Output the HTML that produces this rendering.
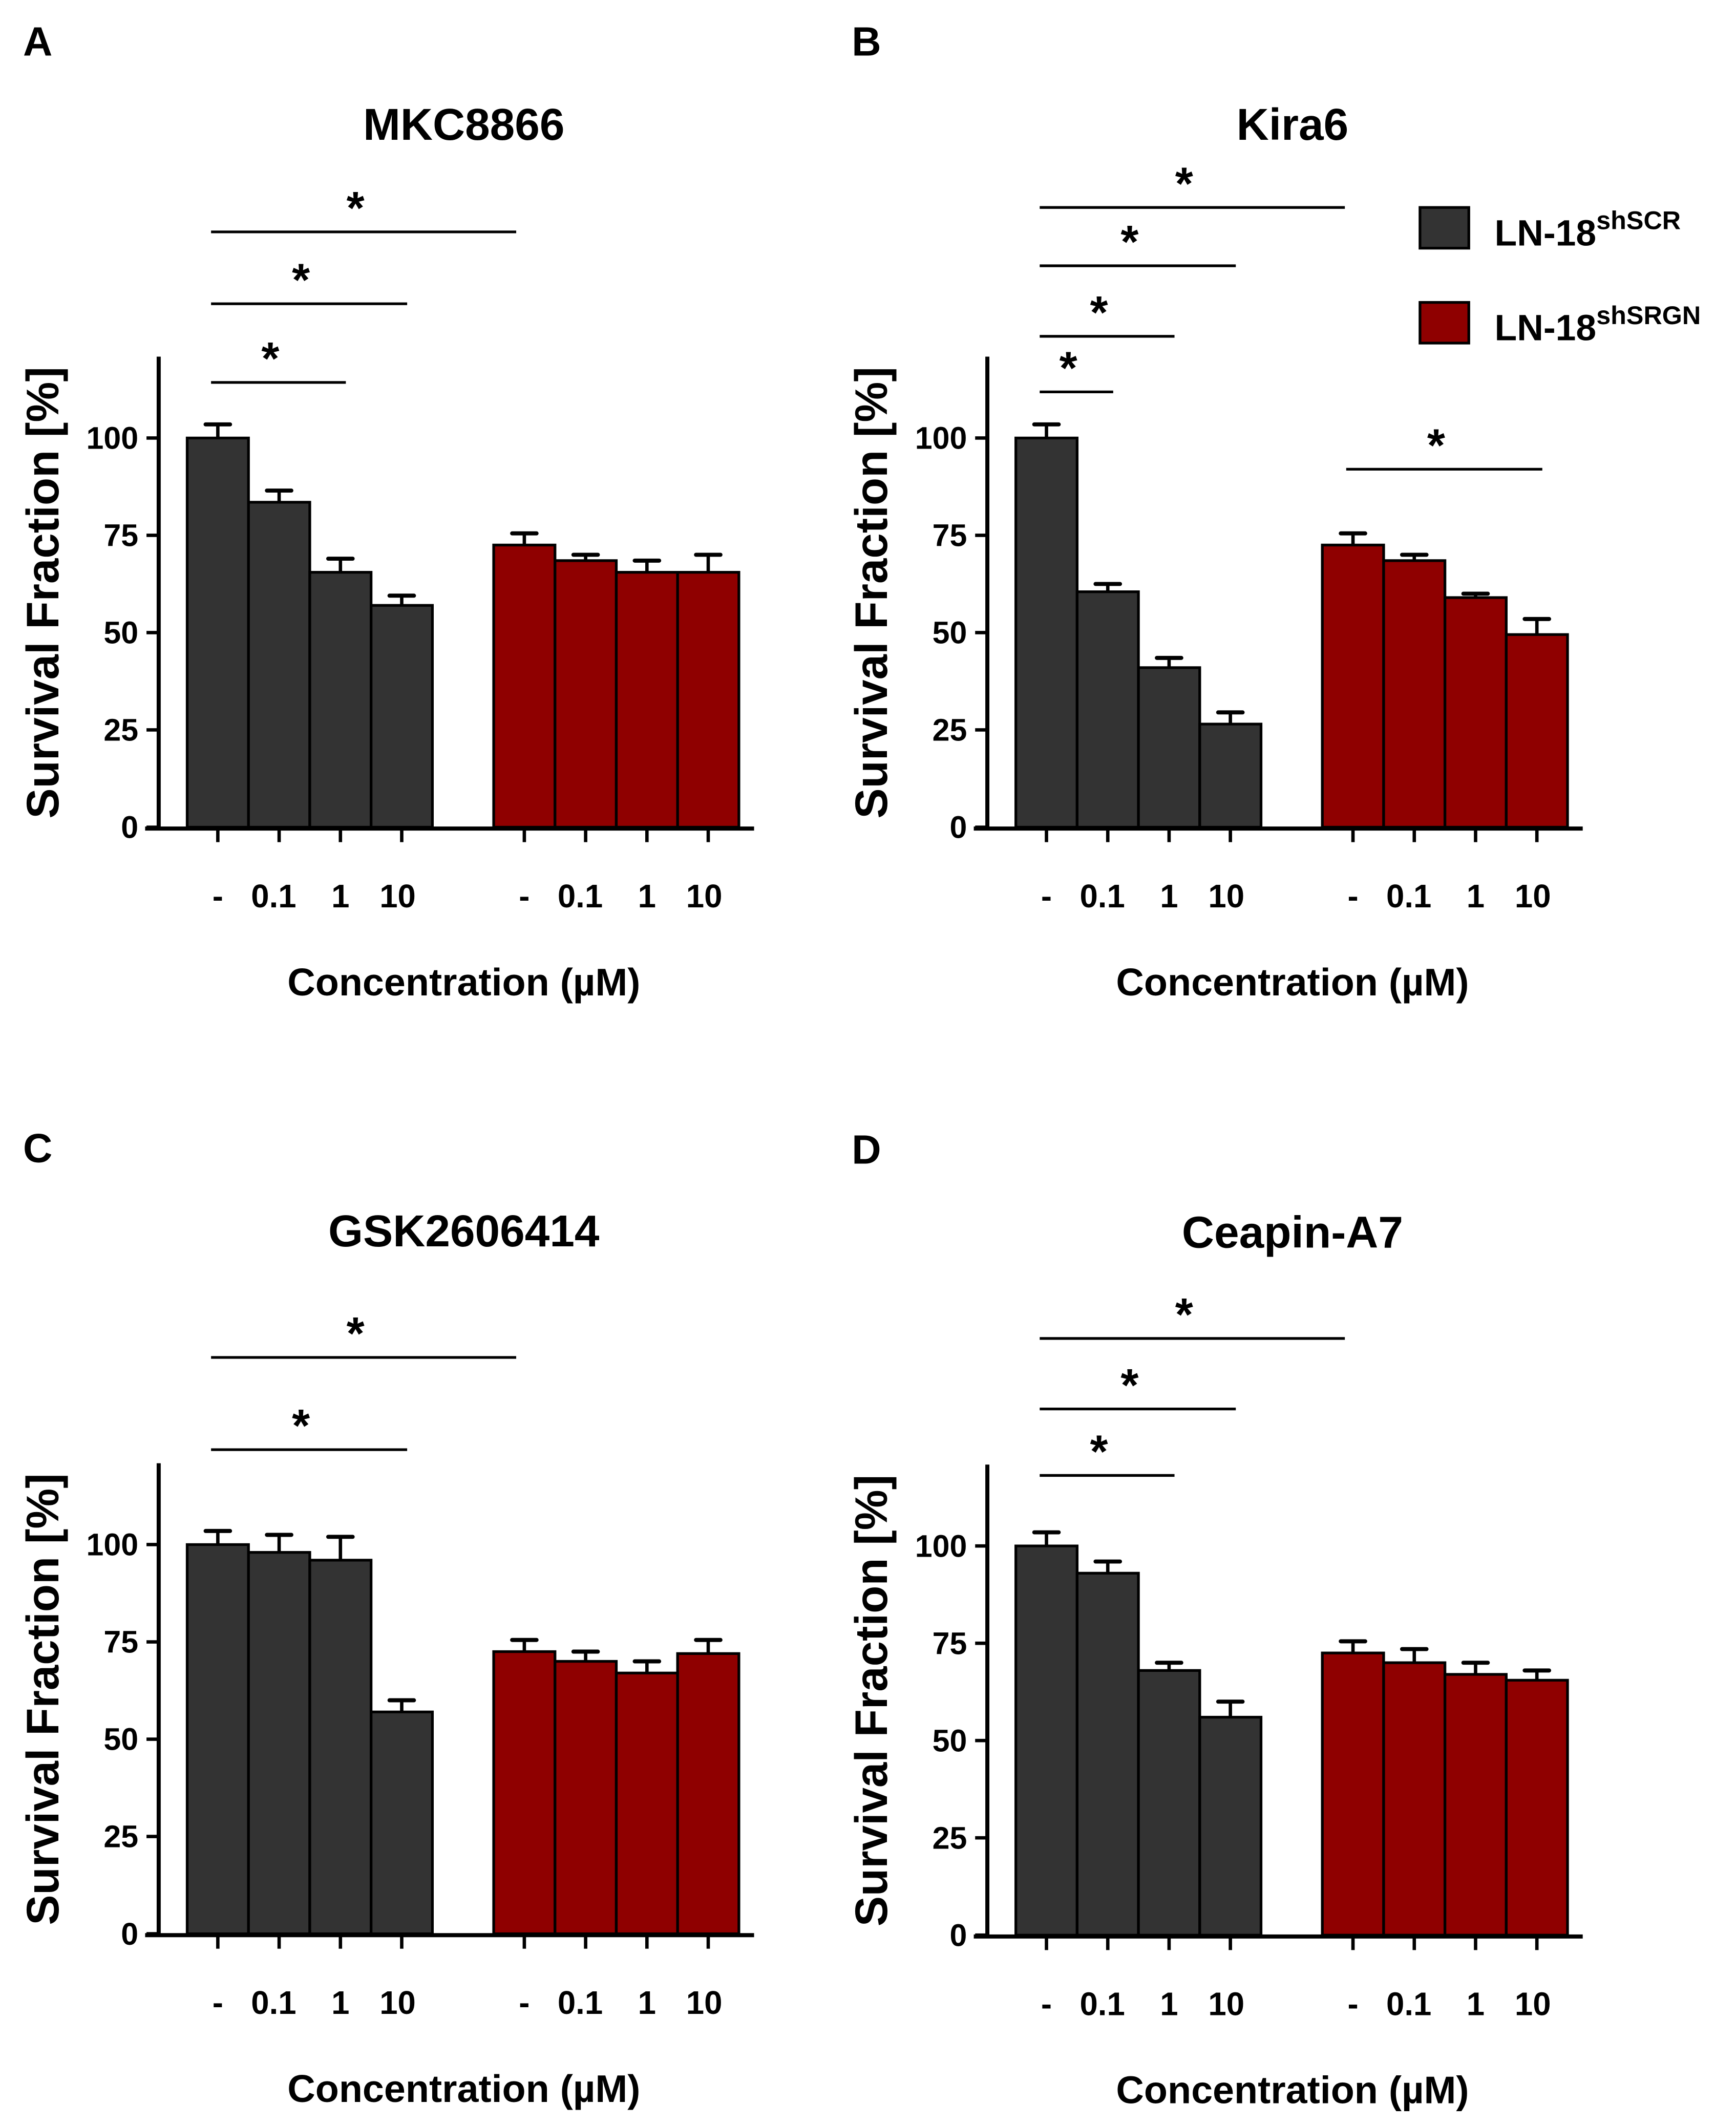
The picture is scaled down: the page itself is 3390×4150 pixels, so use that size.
<!DOCTYPE html>
<html><head><meta charset="utf-8"><style>
html,body{margin:0;padding:0;background:#fff;}
svg{display:block;}
text{font-family:"Liberation Sans",Arial,sans-serif;font-weight:bold;fill:#000;}
</style></head><body>
<svg id="fig" width="3390" height="4150" viewBox="0 0 1280 1567" xmlns="http://www.w3.org/2000/svg"></svg>
<script>
const categories = ["-", "0.1", "1", "10"];
const yTicks = [0, 25, 50, 75, 100];
const titles = ["MKC8866", "Kira6", "GSK2606414", "Ceapin-A7"];
const letters = ["A", "B", "C", "D"];
const scrA = [100, 83.5, 65.5, 57];   const scrAErr = [3.5, 3, 3.5, 2.5];
const srgnA = [72.5, 68.5, 65.5, 65.5]; const srgnAErr = [3, 1.5, 3, 4.5];
const scrB = [100, 60.5, 41, 26.5];   const scrBErr = [3.5, 2, 2.5, 3];
const srgnB = [72.5, 68.5, 59, 49.5]; const srgnBErr = [3, 1.5, 1, 4];
const scrC = [100, 98, 96, 57];       const scrCErr = [3.5, 4.5, 6, 3];
const srgnC = [72.5, 70, 67, 72];     const srgnCErr = [3, 2.5, 3, 3.5];
const scrD = [100, 93, 68, 56];       const scrDErr = [3.5, 3, 2, 4];
const srgnD = [72.5, 70, 67, 65.5];   const srgnDErr = [3, 3.5, 3, 2.5];
// significance brackets: [fromBarIndex, toBarIndex] (0-3 dark, 4-7 red)
const sigA = [[0,4],[0,3],[0,2]];
const sigB = [[0,4],[0,3],[0,2],[0,1],[4,7]];
const sigC = [[0,4],[0,3]];
const sigD = [[0,4],[0,3],[0,2]];

const panels = [
 {dx:0, dy:0, scr:scrA, se:scrAErr, sr:srgnA, re:srgnAErr, sig:sigA, sigY:[171,224,282]},
 {dx:611, dy:0, scr:scrB, se:scrBErr, sr:srgnB, re:srgnBErr, sig:sigB, sigY:[153,196,248,289,346]},
 {dx:0, dy:816, scr:scrC, se:scrCErr, sr:srgnC, re:srgnCErr, sig:sigC, sigY:[185,253]},
 {dx:611, dy:817, scr:scrD, se:scrDErr, sr:srgnD, re:srgnDErr, sig:sigD, sigY:[170,222,271]}
];
const svg = document.getElementById('fig');
const NS = "http://www.w3.org/2000/svg";
function mk(tag, attrs, parent){const e=document.createElementNS(NS,tag);for(const k in attrs)e.setAttribute(k,attrs[k]);(parent||svg).appendChild(e);return e;}
const BW = 45.2;
panels.forEach((p,pi)=>{
  const g = mk('g',{transform:`translate(${p.dx},${p.dy})`});
  
  
  const y = v => 610 - v*2.87;
  const xl = i => 138 + (i<4? i*BW : 226 + (i-4)*BW);
  const xc = i => xl(i) + BW/2;
  let t = mk('text',{x:17,y:41,'font-size':30},g); t.textContent=letters[pi];
   
  t = mk('text',{x:342,y:103,'font-size':33,'text-anchor':'middle'},g); t.textContent=titles[pi];
   
  const vals = p.scr.concat(p.sr), errs = p.se.concat(p.re);
  vals.forEach((v,i)=>{
    const eb = mk('line',{x1:xc(i),x2:xc(i),y1:y(v),y2:y(v+errs[i]),stroke:'#000','stroke-width':2.5},g);
     
    const cap = mk('line',{x1:xc(i)-9,x2:xc(i)+9,y1:y(v+errs[i]),y2:y(v+errs[i]),stroke:'#000','stroke-width':3,'stroke-linecap':'round'},g);
     
    const r = mk('rect',{x:xl(i),y:y(v),width:BW,height:610-y(v),fill:i<4?'#333333':'#8f0000',stroke:'#000','stroke-width':2},g);
     
    const tk = mk('line',{x1:xc(i),x2:xc(i),y1:611,y2:621,stroke:'#000','stroke-width':2.5},g);
     
    const lb = mk('text',{x:xc(i)+(i%4==3?-3:(i%4==1?-4:0)),y:669,'font-size':24,'text-anchor':'middle'},g);
    lb.textContent = categories[i%4];
     
  });
  let a = mk('line',{x1:117,x2:117,y1:263,y2:611,stroke:'#000','stroke-width':3},g);
   
  a = mk('line',{x1:107,x2:556,y1:611,y2:611,stroke:'#000','stroke-width':3},g);
   
  yTicks.forEach(v=>{
    const l = mk('line',{x1:108,x2:117,y1:y(v),y2:y(v),stroke:'#000','stroke-width':2.5},g);
     
    const tx = mk('text',{x:102,y:y(v)+8,'font-size':23,'text-anchor':'end'},g); tx.textContent=v;
     
  });
  t = mk('text',{x:342,y:734,'font-size':28.5,'text-anchor':'middle'},g); t.textContent='Concentration (µM)';
   
  t = mk('text',{x:0,y:0,'font-size':33.5,'text-anchor':'middle',transform:'translate(43,437) rotate(-90)'},g); t.textContent='Survival Fraction [%]';
   
  p.sig.forEach((s,k)=>{
    const yy = p.sigY[k];
    const x1 = xc(s[0])-5, x2 = xc(s[1])+(s[1]===4?-6:4);
    const l = mk('line',{x1:x1,x2:x2,y1:yy,y2:yy,stroke:'#000','stroke-width':2},g);
     
    const st = mk('text',{x:(x1+x2)/2-6,y:yy-6,'font-size':34,'text-anchor':'middle'},g); st.textContent='*';
     
  });
});
const lg = mk('g',{});
 
[['#333333','shSCR',153],['#8f0000','shSRGN',223]].forEach(e=>{
  const r = mk('rect',{x:1047,y:e[2],width:36,height:30,fill:e[0],stroke:'#000','stroke-width':2},lg);
   
  const t = mk('text',{x:1102,y:e[2]+28,'font-size':27},lg);
   
  t.appendChild(document.createTextNode('LN-18'));
  const ts = mk('tspan',{'font-size':19,dy:-12},t); ts.textContent=e[1];
});
</script>
</body></html>
